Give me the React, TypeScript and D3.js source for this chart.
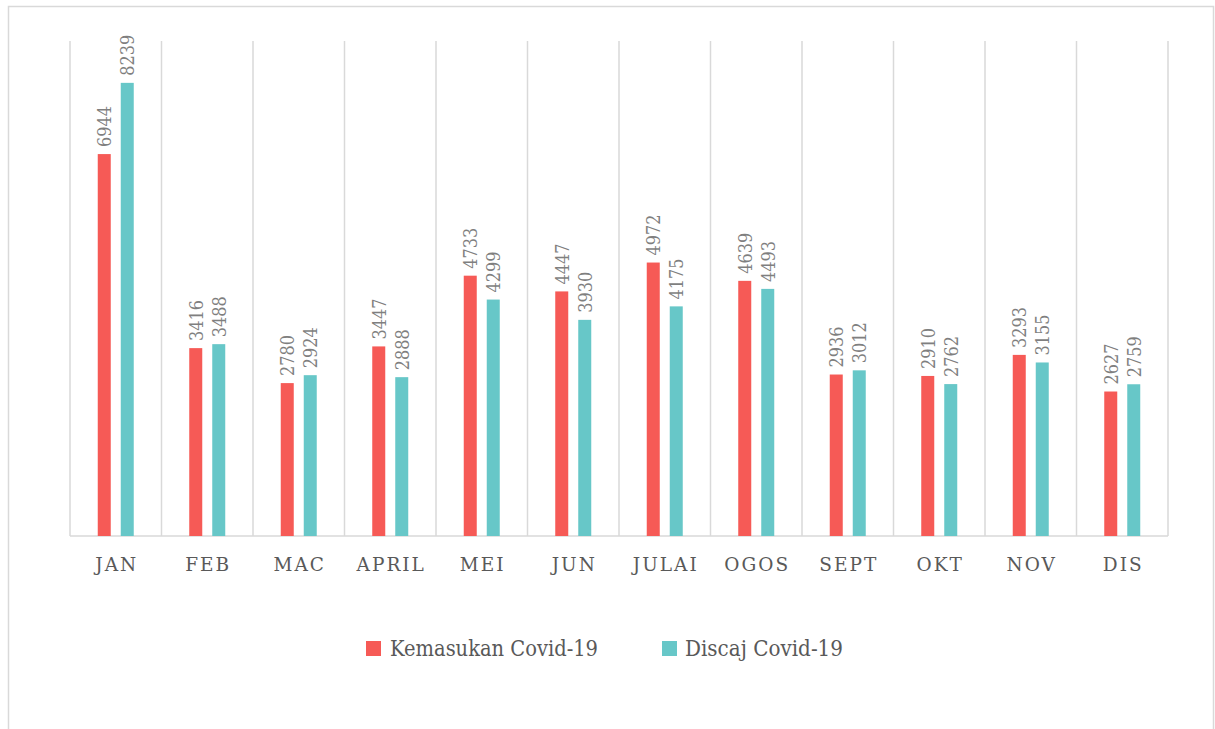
import React from "react";
import * as d3 from "d3";

const categories = ["JAN", "FEB", "MAC", "APRIL", "MEI", "JUN", "JULAI", "OGOS", "SEPT", "OKT", "NOV", "DIS"];
const kemasukan = [6944, 3416, 2780, 3447, 4733, 4447, 4972, 4639, 2936, 2910, 3293, 2627];
const discaj = [8239, 3488, 2924, 2888, 4299, 3930, 4175, 4493, 3012, 2762, 3155, 2759];
const seriesNames = ["Kemasukan Covid-19", "Discaj Covid-19"];
const seriesColors = ["#F65A56", "#67C7C8"];

const W = 1215;
const H = 729;
const left = 70;
const right = 1168;
const top = 41;
const bottom = 536;

export default function App() {
  const x = d3.scaleBand<string>().domain(categories).range([left, right]).padding(0);
  const y = d3.scaleLinear().domain([0, 9000]).range([bottom, top]);
  const barW = 13;
  const gap = 10;
  const series = [kemasukan, discaj];
  const serif = "'DejaVu Serif', serif";
  const gridLines = d3.range(categories.length + 1).map((i) => left + i * x.bandwidth());
  const legendX = [366, 662];
  const legendLen = [208, 158];

  return (
    <svg width={W} height={H} style={{ position: "absolute", left: 0, top: 0, background: "#fff" }}>
      <rect x={8.5} y={6.5} width={1205} height={760} fill="none" stroke="#d9d9d9" strokeWidth={1.5} />
      {gridLines.map((gx, i) => (
        <line key={i} x1={gx} x2={gx} y1={top} y2={bottom} stroke="#d9d9d9" strokeWidth={1.5} />
      ))}
      <line x1={left} x2={right} y1={bottom} y2={bottom} stroke="#d9d9d9" strokeWidth={1.5} />
      {categories.map((c, i) => {
        const cx = (x(c) as number) + x.bandwidth() / 2;
        return (
          <g key={c}>
            {series.map((vals, s) => {
              const bx = s === 0 ? cx - gap / 2 - barW : cx + gap / 2;
              const v = vals[i];
              const by = y(v);
              const lx = bx + barW / 2;
              const ly = by - 7;
              return (
                <g key={s}>
                  <rect x={bx} y={by} width={barW} height={bottom - by} fill={seriesColors[s]} />
                  <text
                    transform={`translate(${lx + 7},${ly}) rotate(-90)`}
                    style={{ fontFamily: serif }}
                    fontSize={19}
                    textLength={41}
                    lengthAdjust="spacingAndGlyphs"
                    fill="#7f7f7f"
                  >
                    {v}
                  </text>
                </g>
              );
            })}
            <text
              x={cx + 1}
              y={571}
              textAnchor="middle"
              style={{ fontFamily: serif }}
              fontSize={18.5}
              letterSpacing={2}
              fill="#595959"
            >
              {c}
            </text>
          </g>
        );
      })}
      {seriesNames.map((n, s) => {
        const lx = legendX[s];
        return (
          <g key={n}>
            <rect x={lx} y={641} width={15} height={15} fill={seriesColors[s]} />
            <text
              x={lx + (s === 0 ? 24 : 23)}
              y={656}
              style={{ fontFamily: serif }}
              fontSize={21.5}
              textLength={legendLen[s]}
              lengthAdjust="spacingAndGlyphs"
              fill="#595959"
            >
              {n}
            </text>
          </g>
        );
      })}
    </svg>
  );
}
